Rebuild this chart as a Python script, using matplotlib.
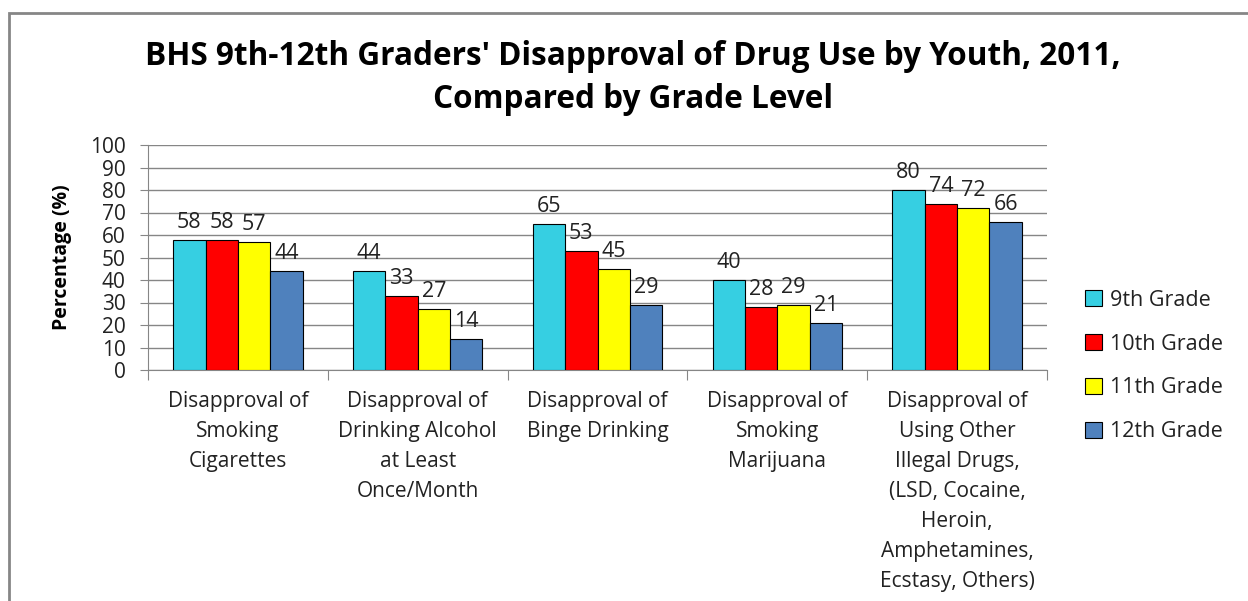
import numpy as np
import matplotlib
matplotlib.use("Agg")
import matplotlib.pyplot as plt
from matplotlib.patches import Patch, Rectangle

plt.rcParams['font.family'] = ['Open Sans', 'DejaVu Sans']

categories = ["Disapproval of\nSmoking\nCigarettes",
              "Disapproval of\nDrinking Alcohol\nat Least\nOnce/Month",
              "Disapproval of\nBinge Drinking",
              "Disapproval of\nSmoking\nMarijuana",
              "Disapproval of\nUsing Other\nIllegal Drugs,\n(LSD, Cocaine,\nHeroin,\nAmphetamines,\nEcstasy, Others)"]
grades = ["9th Grade", "10th Grade", "11th Grade", "12th Grade"]
grade9 = [58, 44, 65, 40, 80]
grade10 = [58, 33, 53, 28, 74]
grade11 = [57, 27, 45, 29, 72]
grade12 = [44, 14, 29, 21, 66]
colors = ["#36CFE2", "#FF0000", "#FFFF00", "#4F81BD"]

fig = plt.figure(figsize=(12.48, 6.01), dpi=100)
ax = fig.add_axes([148/1248, 1-370/601, (1047-148)/1248, (370-145)/601])

x = np.arange(len(categories))
w = 0.18
series = [grade9, grade10, grade11, grade12]
for i, vals in enumerate(series):
    pos = x + (i - 1.5) * w
    bars = ax.bar(pos, vals, w, color=colors[i], edgecolor="black", linewidth=0.8, zorder=3)
    for b, v in zip(bars, vals):
        ax.annotate(str(v), (b.get_x() + b.get_width()/2, v), xytext=(0, 5),
                    textcoords="offset points", ha="center", va="bottom",
                    fontsize=15.5, color="#222222")

ax.set_xlim(-0.5, 4.5)
ax.set_ylim(0, 100)
ax.set_yticks(np.arange(0, 101, 10))
ax.tick_params(axis="y", labelsize=15, length=6, color="#868686", pad=10, labelcolor="#222222")
ax.yaxis.grid(True, color="#868686", linewidth=1, zorder=0)
ax.set_axisbelow(True)

ax.set_xticks(np.arange(-0.5, 5, 1))
ax.set_xticklabels([])
ax.tick_params(axis="x", which="major", length=7, color="#868686")
ax.set_xticks(x, minor=True)
ax.set_xticklabels(categories, minor=True, fontsize=15, color="#222222", linespacing=1.56)
ax.tick_params(axis="x", which="minor", length=0, pad=15)

for s in ["top", "right"]:
    ax.spines[s].set_visible(False)
for s in ["left", "bottom"]:
    ax.spines[s].set_color("#868686")

ax.set_ylabel("Percentage (%)", fontsize=14, fontweight="bold", labelpad=13)

fig.text(633/1248, 1-78/601, "BHS 9th-12th Graders' Disapproval of Drug Use by Youth, 2011,\nCompared by Grade Level",
         ha="center", va="center", fontsize=22.7, fontweight="bold", linespacing=1.4)

handles = [Patch(facecolor=c, edgecolor="black", linewidth=0.8) for c in colors]
fig.legend(handles, grades, loc="center left", bbox_to_anchor=(1066/1248, 1-366/601),
           frameon=False, fontsize=15.5, handlelength=0.75, handleheight=0.75,
           handletextpad=0.4, labelspacing=1.06, labelcolor="#222222")

fig.add_artist(Rectangle((9/1248, -0.1), 1.2, 1.1 - 13/601, transform=fig.transFigure,
                         fill=False, edgecolor="#868686", linewidth=2))

fig.savefig("out.png", dpi=100)
